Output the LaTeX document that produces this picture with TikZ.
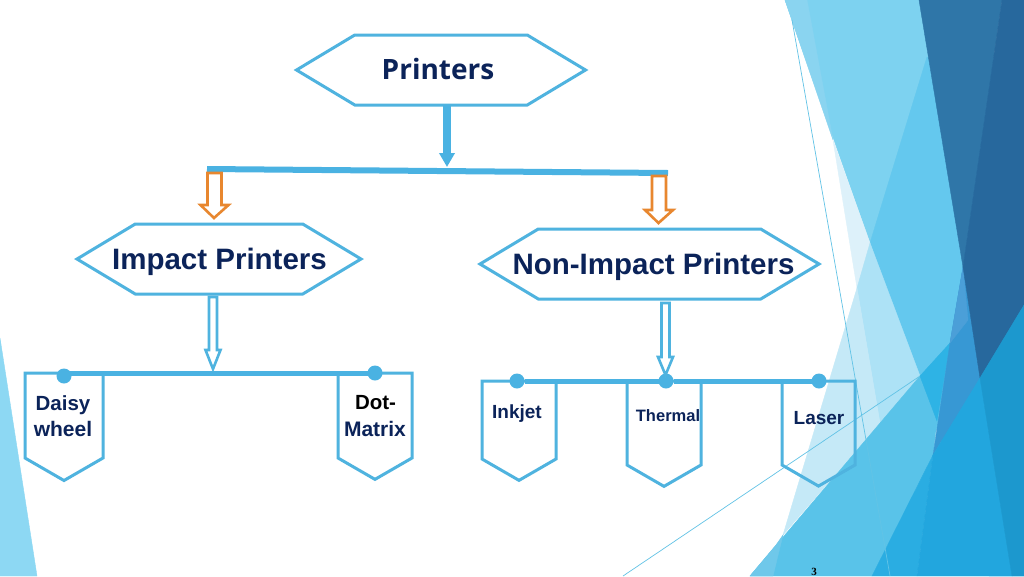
\documentclass[tikz,border=0pt]{standalone}
\usepackage{fontspec}
\setmainfont{Liberation Sans}
\newfontfamily\titlefont{Open Sans}
\newfontfamily\numfont{Liberation Serif}
\usetikzlibrary{shapes.arrows,shapes.symbols,calc,arrows.meta}
\definecolor{ink}{HTML}{0B2359}
\definecolor{lineblue}{HTML}{4FB3DF}
\definecolor{barblue}{HTML}{4AB2E2}
\definecolor{orangeline}{HTML}{E8872F}
\definecolor{thinblue}{RGB}{98,195,230}
\tikzset{
  x=1pt,y=-1pt,
  hexbox/.style={draw=lineblue,line width=3pt,fill=white,shape=signal,signal to=east and west,outer sep=0pt,inner sep=0pt,minimum height=70pt,signal pointer angle=62},
  tagbox/.style={draw=lineblue,line width=3pt,fill=none,shape=signal,signal to=south,outer sep=0pt,inner sep=0pt,signal pointer angle=120},
  dotmark/.style={circle,fill=barblue,inner sep=0pt,minimum size=15pt,outer sep=0pt},
  bigtext/.style={font=\bfseries\fontsize{29.5}{32}\selectfont,text=ink,inner sep=0pt},
  smalltext/.style={font=\bfseries\fontsize{#1}{24}\selectfont,text=ink,inner sep=0pt,align=center},
  bus/.style={draw=barblue,line width=#1},
  hollow/.style={line width=2.6pt,fill=white,line join=miter},
  hairline/.style={draw=thinblue,line width=0.7pt},
}
\newcommand{\facet}[2]{\definecolor{facetc}{RGB}{#1}\fill[facetc,draw=facetc,line width=0.4pt] #2;}
\newcommand{\hollowarrow}[5]{% from, to, half shaft, half head, head length
  \path let \p1=(#1),\p2=(#2) in
    coordinate (ha1) at (\x1-#3pt,\y1) coordinate (ha2) at (\x1+#3pt,\y1)
    coordinate (ha3) at (\x1+#3pt,\y2+#5pt) coordinate (ha4) at (\x1+#4pt,\y2+#5pt)
    coordinate (ha5) at (\x2,\y2) coordinate (ha6) at (\x1-#4pt,\y2+#5pt)
    coordinate (ha7) at (\x1-#3pt,\y2+#5pt);
}
\begin{document}
\begin{tikzpicture}
\useasboundingbox (0,0) rectangle (1024,576);
\fill[white] (0,0) rectangle (1024,576);
\begin{scope}
\clip (0,0) rectangle (1024,576);
% background facets
\facet{125,210,240}{(785,0)--(930,0)--(930,57)--(870,243)--cycle}
\facet{138,212,240}{(785,0)--(807,0)--(833,140)--cycle}
\facet{100,200,238}{(927,57)--(870,243)--(989,576)--(1024,576)--(1024,57)--cycle}
\facet{221,241,250}{(833,140)--(870,243)--(857,288)--cycle}
\facet{173,226,246}{(870,243)--(857,288)--(880,423)--(920,376)--cycle}
\facet{197,233,247}{(857,288)--(880,423)--(783,535)--cycle}
\facet{89,195,233}{(750,576)--(920,376)--(937,421)--(933,455)--(872,576)--cycle}
\facet{111,200,234}{(750,576)--(773,576)--(783,535)--(776,545)--cycle}
\facet{46,179,229}{(920,376)--(950,343)--(937,421)--cycle}
\facet{55,152,212}{(963,267)--(980,378)--(933,455)--(950,343)--cycle}
\facet{75,159,216}{(963,267)--(968,320)--(950,343)--cycle}
\facet{47,118,168}{(919,0)--(1002,0)--(963,267)--cycle}
\facet{39,104,157}{(1002,0)--(1024,0)--(1024,305)--(980,378)--(963,267)--cycle}
\facet{42,173,226}{(933,455)--(872,576)--(917,576)--cycle}
\facet{34,166,222}{(980,378)--(933,455)--(917,576)--(1012,576)--cycle}
\facet{28,152,206}{(980,378)--(1024,305)--(1024,576)--(1012,576)--cycle}
\draw[hairline] (792,20)--(890,576);
\draw[hairline] (623,576)--(920,376);
\facet{141,216,243}{(0,338)--(37,576)--(0,576)--cycle}
\end{scope}

% hexagons
\node[hexbox,minimum width=289pt] (printers) at (441,70) {};
\node[hexbox,minimum width=284pt] (impact) at (219,259) {};
\node[hexbox,minimum width=339pt] (nonimpact) at (649.5,264) {};
\node[font=\titlefont\bfseries\fontsize{28}{32}\selectfont,text=ink,inner sep=0pt] (tprinters) at (438,69) {Printers};
\node[bigtext] (timpact) at (219.5,262) {Impact Printers};
\node[bigtext] (tnonimpact) at (653.5,267) {Non-Impact Printers};

% top connector
\coordinate (topleft) at (207,169);
\coordinate (topright) at (668,173);
\coordinate (toptip) at (447,167);
\draw[bus=6pt] (topleft) -- (topright);
\draw[draw=barblue,line width=8pt,-{Triangle[length=14pt,width=15pt]}] (printers.south -| toptip) -- (toptip);

% orange arrows
\coordinate (oa1) at (214.5,173);
\coordinate (oa2) at (214,218);
\hollowarrow{oa1}{oa2}{7}{14}{13}
\draw[hollow,draw=orangeline] (ha1)--(ha2)--(ha3)--(ha4)--(ha5)--(ha6)--(ha7)--cycle;
\coordinate (ob1) at (659,176);
\coordinate (ob2) at (658.5,223);
\hollowarrow{ob1}{ob2}{7}{14}{13}
\draw[hollow,draw=orangeline] (ha1)--(ha2)--(ha3)--(ha4)--(ha5)--(ha6)--(ha7)--cycle;

% tag boxes
\node[tagbox,minimum width=78pt,minimum height=85pt] (daisy) at (64,415.5) {};
\node[tagbox,minimum width=74pt,minimum height=85pt] (dotm) at (375,415.5) {};
\node[tagbox,minimum width=74pt,minimum height=78pt] (inkjet) at (519,420) {};
\node[tagbox,minimum width=74pt,minimum height=84pt] (thermal) at (664,423) {};
\node[tagbox,minimum width=73pt,minimum height=84pt] (laser) at (818.5,423) {};

% buses and dots
\node[dotmark] (d1) at (64,376) {};
\node[dotmark] (d2) at (375,373) {};
\node[dotmark] (d3) at (517,381) {};
\node[dotmark] (d4) at (666,381) {};
\node[dotmark] (d5) at (819,381) {};
\draw[bus=5pt] (d1 |- d2) -- (d2);
\draw[bus=5pt] (d3) -- (d4);
\draw[bus=5pt] (d4) -- (d5);

% hollow blue arrows
\coordinate (ba1) at (213,297);
\coordinate (ba2) at (213,369);
\hollowarrow{ba1}{ba2}{4}{7.5}{19}
\draw[hollow,draw=lineblue] (ha1)--(ha2)--(ha3)--(ha4)--(ha5)--(ha6)--(ha7)--cycle;
\coordinate (bb1) at (665.5,303);
\coordinate (bb2) at (665.5,375);
\hollowarrow{bb1}{bb2}{4}{7.5}{18}
\draw[hollow,draw=lineblue] (ha1)--(ha2)--(ha3)--(ha4)--(ha5)--(ha6)--(ha7)--cycle;

% labels
\node[smalltext=20.5] (t1) at (63,405) {Daisy};
\node[smalltext=21] (t2) at (63,428.5) {wheel};
\node[smalltext=20.5,text=black] (t3) at (375.5,403) {Dot-};
\node[smalltext=21] (t4) at (375,428.5) {Matrix};
\node[smalltext=19] (t5) at (517,414) {Inkjet};
\node[smalltext=16.5] (t6) at (668,416) {Thermal};
\node[smalltext=19] (t7) at (819,418) {Laser};
\node[font=\numfont\bfseries\fontsize{11}{12}\selectfont,text=black,inner sep=0pt] (pg) at (814,572) {3};
\end{tikzpicture}
\end{document}
